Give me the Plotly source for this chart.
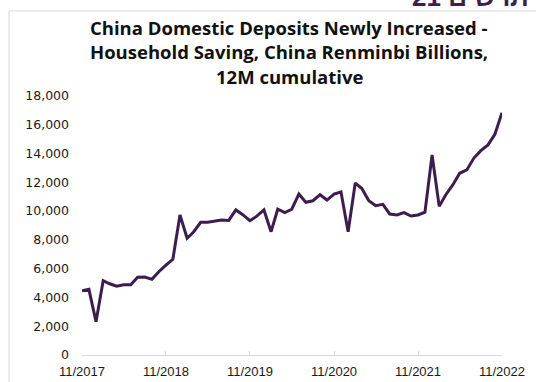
import pandas as pd
import plotly.graph_objects as go

# Monthly observations, Nov 2017 - Nov 2022 (RMB billions, 12M cumulative)
months = pd.date_range("2017-11-01", "2022-11-01", freq="MS")
household_saving = [
    4470, 4565, 2315, 5165, 4950, 4780, 4880, 4880, 5400, 5420, 5260, 5790,
    6250, 6650, 9730, 8110, 8550, 9220, 9230, 9280, 9380, 9350, 10080, 9750,
    9330, 9650, 10080, 8570, 10130, 9890, 10130, 11190, 10610, 10720, 11140, 10770,
    11190, 11330, 8570, 11950, 11590, 10720, 10380, 10470, 9800, 9730, 9890, 9660,
    9730, 9920, 13900, 10330, 11120, 11820, 12630, 12860, 13670, 14200, 14600, 15340,
    16840,
]
tick_dates = ["2017-11-01", "2018-11-01", "2019-11-01", "2020-11-01", "2021-11-01", "2022-11-01"]
tick_labels = ["11/2017", "11/2018", "11/2019", "11/2020", "11/2021", "11/2022"]
title_lines = [
    "China Domestic Deposits Newly Increased -",
    "Household Saving, China Renminbi Billions,",
    "12M cumulative",
]

W, H = 536, 382
L, R, T, B = 82, 34, 96, 27
pw, ph = W - L - R, H - T - B


def px_x(x):
    return (x - L) / pw


def px_y(y):
    return (H - B - y) / ph


fig = go.Figure()
fig.add_trace(go.Scatter(
    x=months, y=household_saving, mode="lines",
    line=dict(color="#3d1d50", width=3), hoverinfo="skip",
))

annotations = []
for txt, yc in zip(title_lines, [27, 52, 77]):
    annotations.append(dict(
        text=f"<b>{txt}</b>", xref="paper", yref="paper",
        x=px_x(289), y=px_y(yc), xanchor="center", yanchor="middle",
        showarrow=False, font=dict(family="Open Sans", size=18.5, color="#111111"),
    ))
# page header fragment above the chart frame
annotations.append(dict(
    text="<b>תרשים 21</b>", xref="paper", yref="paper",
    x=px_x(410), y=px_y(-20), xanchor="left", yanchor="top",
    showarrow=False, font=dict(family="Liberation Sans", size=26, color="#3b1f4e"),
))

shapes = [
    dict(type="line", xref="paper", yref="paper", x0=px_x(9), x1=px_x(W + 2),
         y0=px_y(11), y1=px_y(11), line=dict(color="#d9d9d9", width=1)),
    dict(type="line", xref="paper", yref="paper", x0=px_x(9), x1=px_x(9),
         y0=px_y(11), y1=px_y(H + 2), line=dict(color="#d9d9d9", width=1)),
]

fig.update_layout(
    width=W, height=H,
    margin=dict(l=L, r=R, t=T, b=B, autoexpand=False),
    paper_bgcolor="white", plot_bgcolor="white",
    showlegend=False,
    annotations=annotations,
    shapes=shapes,
    xaxis=dict(
        type="date", range=[tick_dates[0], tick_dates[-1]],
        tickvals=tick_dates, ticktext=tick_labels,
        showgrid=False, zeroline=False, automargin=False,
        showline=True, linecolor="#d9d9d9", linewidth=1,
        ticks="inside", ticklen=4, tickcolor="#d9d9d9",
        ticklabelstandoff=4,
        tickfont=dict(family="Liberation Sans", size=13, color="#1a1a1a"),
    ),
    yaxis=dict(
        range=[0, 18000], dtick=2000, tickformat=",d", automargin=False,
        showgrid=False, zeroline=False, showline=False, ticks="",
        ticklabelstandoff=12,
        tickfont=dict(family="DejaVu Sans", size=12.5, color="#1a1a1a"),
    ),
)

fig.write_html("out.html")
